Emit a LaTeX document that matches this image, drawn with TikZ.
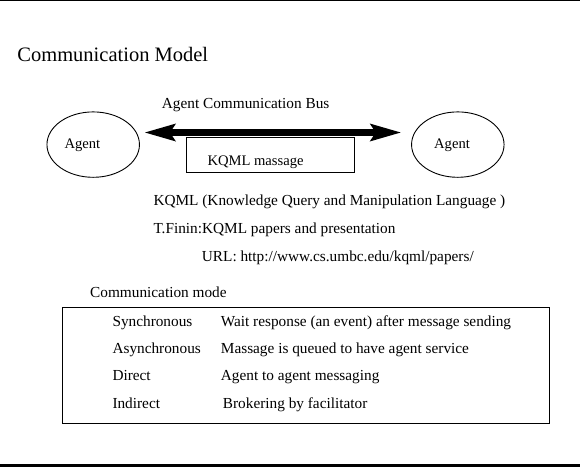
\documentclass[tikz,border=0pt]{standalone}
\usepackage{fontspec}
\setmainfont{Liberation Serif}
\usetikzlibrary{shapes.geometric,arrows.meta}
\tikzset{
  txt/.style={anchor=base west,inner sep=0pt,font=\fontsize{15.3}{18}\selectfont},
  smalltxt/.style={anchor=base west,inner sep=0pt,font=\fontsize{14.6}{17}\selectfont},
  titletxt/.style={anchor=base west,inner sep=0pt,font=\fontsize{20.5}{24}\selectfont},
  agentshape/.style={draw,ellipse,line width=0.9pt,inner sep=0pt,minimum width=92.5pt,minimum height=65.4pt},
  frame/.style={draw,rectangle,line width=1pt,inner sep=0pt},
  bus/.style={line width=7pt,{Stealth[length=31pt,width=18pt,inset=6pt,line width=0pt]}-{Stealth[length=31pt,width=18pt,inset=6pt,line width=0pt]}}
}
\begin{document}
\begin{tikzpicture}[x=1pt,y=-1pt]
\useasboundingbox (0,0) rectangle (580,467);
% page rules
\fill (0,0) rectangle (580,1.2);
\fill (0,464) rectangle (580,467);
% title
\node[titletxt] (title) at (17.2,61.7) {Communication Model};
% agents
\node[agentshape] (la) at (93.2,144.6) {};
\node[agentshape] (ra) at (457.8,144.6) {};
\node[smalltxt] (lat) at (64.3,148.3) {Agent};
\node[smalltxt] (rat) at (434,148.3) {Agent};
% bus
\coordinate (bl) at (145,132.5);
\coordinate (br) at (400.7,132.5);
\draw[bus] (bl) -- (br);
\node[txt] (bus) at (161.7,108.3) {Agent Communication Bus};
% message box
\node[frame,minimum width=168.3pt,minimum height=34.7pt] (kbox) at (270.2,154.7) {};
\node[smalltxt] (kmsg) at (207.3,165) {KQML massage};
% references
\node[txt] (kqml) at (153.3,205.7) {KQML (Knowledge Query and Manipulation Language )};
\node[txt] (finin) at (153.3,233.3) {T.Finin:KQML papers and presentation};
\node[txt] (url) at (201.7,261) {URL: http://www.cs.umbc.edu/kqml/papers/};
% communication mode
\node[txt] (cm) at (90,297.3) {Communication mode};
\node[frame,minimum width=487pt,minimum height=116.7pt] (mbox) at (305.8,365.6) {};
\node[txt] (s1) at (112.3,326) {Synchronous};
\node[txt] (s2) at (112.3,353.4) {Asynchronous};
\node[txt] (s3) at (112.3,380.9) {Direct};
\node[txt] (s4) at (112.3,408.3) {Indirect};
\node[txt] (d1) at (220.7,326) {Wait response (an event) after message sending};
\node[txt] (d2) at (220.7,353.4) {Massage is queued to have agent service};
\node[txt] (d3) at (220.7,380.9) {Agent to agent messaging};
\node[txt] (d4) at (222.7,408.3) {Brokering by facilitator};
\end{tikzpicture}
\end{document}
